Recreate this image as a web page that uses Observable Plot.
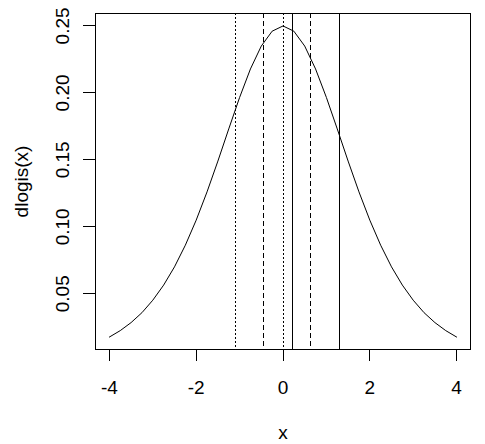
<!DOCTYPE html>
<html>
<head>
<meta charset="utf-8">
<script src="https://cdn.jsdelivr.net/npm/d3@7"></script>
<script src="https://cdn.jsdelivr.net/npm/@observablehq/plot@0.6"></script>
<style>
  html, body { margin: 0; padding: 0; background: #fff; }
  svg { display: block; }
  svg text { font-family: "Liberation Sans", Arial, sans-serif !important; font-size: 19px !important; fill: #000; }
</style>
</head>
<body>
<div id="chart"></div>
<script>
// Curve values
const xValues = [-4, -3.75, -3.5, -3.25, -3, -2.75, -2.5, -2.25, -2, -1.75, -1.5, -1.25, -1, -0.75, -0.5, -0.25,
                 0, 0.25, 0.5, 0.75, 1, 1.25, 1.5, 1.75, 2, 2.25, 2.5, 2.75, 3, 3.25, 3.5, 3.75, 4];
const yValues = [0.0177, 0.0225, 0.0285, 0.0359, 0.0452, 0.0565, 0.0701, 0.0863, 0.1050, 0.1261, 0.1491, 0.1731, 0.1966, 0.2179, 0.2350, 0.2461,
                 0.2500, 0.2461, 0.2350, 0.2179, 0.1966, 0.1731, 0.1491, 0.1261, 0.1050, 0.0863, 0.0701, 0.0565, 0.0452, 0.0359, 0.0285, 0.0225, 0.0177];

// Vertical reference lines and their line types
const vlinePositions = [-1.10, -0.44, 0, 0.21, 0.64, 1.31];
const vlineTypes = ["dotted", "dashed", "dotted", "solid", "dashed", "solid"];

// Tick labels
const xTicks = [-4, -2, 0, 2, 4];
const xTickLabels = ["-4", "-2", "0", "2", "4"];
const yTicks = [0.05, 0.10, 0.15, 0.20, 0.25];
const yTickLabels = ["0.05", "0.10", "0.15", "0.20", "0.25"];

// Axis titles
const xTitle = "x";
const yTitle = "dlogis(x)";

const curve = xValues.map((x, i) => ({x, y: yValues[i]}));
const vlines = vlinePositions.map((x, i) => ({x, type: vlineTypes[i]}));
const dashFor = {dotted: "2,2", dashed: "5,3", solid: null};

const chart = Plot.plot({
  width: 485,
  height: 444,
  marginLeft: 95,
  marginRight: 15,
  marginTop: 13,
  marginBottom: 95,
  style: {background: "#fff", color: "#000"},
  x: {domain: [-4.32, 4.32]},
  y: {domain: [0.0084, 0.2593]},
  marks: [
    Plot.frame({stroke: "#000", strokeWidth: 1, shapeRendering: "crispEdges"}),
    Plot.line(curve, {x: "x", y: "y", stroke: "#000", strokeWidth: 1}),
    ...["dotted", "dashed", "solid"].map(t =>
      Plot.ruleX(vlines.filter(d => d.type === t), {x: "x", stroke: "#000", strokeWidth: 1, strokeDasharray: dashFor[t], shapeRendering: "crispEdges"})
    ),
    Plot.axisX({ticks: xTicks, tickSize: 12, label: null, tickFormat: () => "", shapeRendering: "crispEdges"}),
    Plot.axisY({ticks: yTicks, tickSize: 12, label: null, tickFormat: () => "", shapeRendering: "crispEdges"}),
    Plot.text(xTicks, {x: d => d, text: (d, i) => xTickLabels[i], frameAnchor: "bottom", dy: 38, lineAnchor: "middle", fontSize: 19}),
    Plot.text(yTicks, {y: d => d, text: (d, i) => yTickLabels[i], frameAnchor: "left", dx: -33, rotate: -90, textAnchor: "middle", lineAnchor: "middle", fontSize: 19}),
    Plot.text([xTitle], {frameAnchor: "bottom", dy: 83, text: d => d, lineAnchor: "middle", fontSize: 19}),
    Plot.text([yTitle], {frameAnchor: "left", dx: -74, text: d => d, rotate: -90, textAnchor: "middle", lineAnchor: "middle", fontSize: 19})
  ]
});
document.getElementById("chart").appendChild(chart);
</script>
</body>
</html>
